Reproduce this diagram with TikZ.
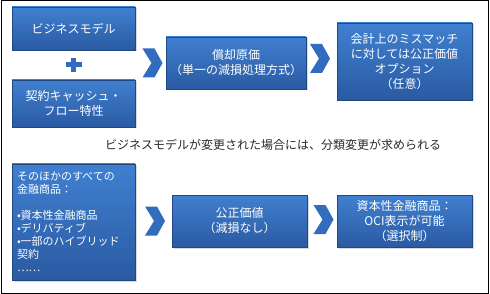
\documentclass[tikz,border=0pt]{standalone}
\usepackage{fontspec}
\setmainfont{Noto Sans CJK JP}
\usepackage{tikz}
\usetikzlibrary{positioning, calc, shadows}
\definecolor{boxtop}{RGB}{64,128,208}
\definecolor{boxbot}{RGB}{42,90,162}
\definecolor{chevblue}{RGB}{50,108,190}
\definecolor{notetext}{RGB}{40,40,40}

\tikzset{
  bluebox/.style={rectangle, top color=boxtop, bottom color=boxbot, draw=boxbot!80!black,
    line width=0.3pt, text=white, align=center, inner sep=4pt,
    font=\fontsize{12}{15}\selectfont,
    drop shadow={shadow xshift=1.5pt, shadow yshift=-1.5pt, opacity=0.3}},
  chev/.style={fill=chevblue}
}

\begin{document}
\begin{tikzpicture}[x=1pt, y=-1pt]
    % Frame
    \useasboundingbox (0,0) rectangle (490,294);
    \draw[line width=1pt] (1,1) rectangle (488,293);

    % Top row
    \node[bluebox, minimum width=123pt, minimum height=43pt] (model) at (73.5,28.5) {ビジネスモデル};
    \node[bluebox, minimum width=123pt, minimum height=47pt] (cashflow) at (73.5,103.5) {契約キャッシュ・\\フロー特性};
    \node[bluebox, minimum width=134pt, minimum height=52pt] (amortised) at (236,63) {償却原価\\（単一の減損処理方式）};
    \node[bluebox, minimum width=135pt, minimum height=77pt] (fvoption) at (404.5,61.5) {会計上のミスマッチ\\に対しては公正価値\\オプション\\（任意）};

    % Plus between the two criteria
    \fill[chevblue] ($(model.south)!0.5!(cashflow.north)$) +(-8,-2.5) rectangle +(8,2.5);
    \fill[chevblue] ($(model.south)!0.5!(cashflow.north)$) +(-2.5,-7) rectangle +(2.5,7);

    % Note
    \node[text=notetext, font=\fontsize{12}{15}\selectfont] (note) at (273,145) {ビジネスモデルが変更された場合には、分類変更が求められる};

    % Bottom row
    \node[bluebox, minimum width=123pt, minimum height=116pt, text width=113pt, align=left,
      font=\fontsize{11}{13}\selectfont] (others) at (73.5,222)
      {そのほかのすべての\\金融商品：\\[13pt]•資本性金融商品\\•デリバティブ\\•一部のハイブリッド\\契約\\……};
    \node[bluebox, minimum width=135pt, minimum height=52pt] (fairvalue) at (239.5,221) {公正価値\\（減損なし）};
    \node[bluebox, minimum width=135pt, minimum height=52pt] (oci) at (404.5,221) {資本性金融商品：\\OCI表示が可能\\（選択制）};

    % Chevrons
    \foreach \cx/\cy in {152.5/63, 320/58.5, 155/221, 323.5/219.5}
        \fill[chev] (\cx-10,\cy-14.5) -- (\cx+2,\cy-14.5) -- (\cx+10,\cy) -- (\cx+2,\cy+14.5)
            -- (\cx-10,\cy+14.5) -- (\cx-1,\cy) -- cycle;

\end{tikzpicture}
\end{document}
